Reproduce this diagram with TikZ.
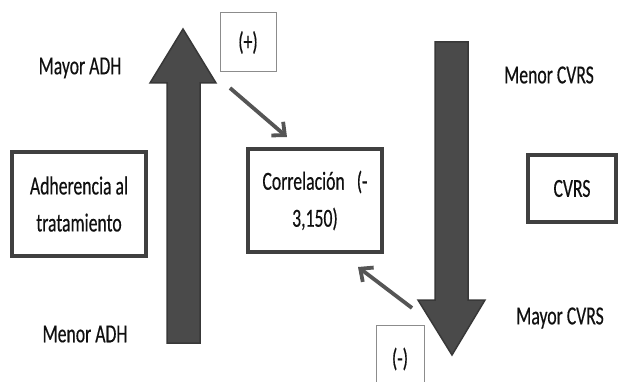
\documentclass[tikz,border=0pt]{standalone}
\usepackage{fontspec}
\setmainfont{Carlito}[FakeStretch=0.68,FakeBold=0.4]
\usetikzlibrary{arrows.meta,shadows}
\definecolor{arrfill}{HTML}{4A4A4A}
\definecolor{arrdraw}{HTML}{383838}
\definecolor{boxdraw}{HTML}{404040}
\definecolor{thinbox}{HTML}{8C8C8C}
\definecolor{linkcol}{HTML}{555555}
\definecolor{txt}{HTML}{101010}
\tikzset{
  x=1pt, y=-1pt,
  bigarrow/.style={fill=arrfill, draw=arrdraw, line width=1.5pt, line join=miter},
  mainbox/.style={draw=boxdraw, line width=3.2pt, fill=white, inner sep=0pt, align=center, text=txt,
    font=\fontsize{26}{37}\selectfont,
    drop shadow={opacity=0.35, shadow xshift=1pt, shadow yshift=-2pt}},
  signbox/.style={draw=thinbox, line width=1pt, fill=white, inner sep=0pt, text=txt,
    font=\fontsize{26}{30}\selectfont},
  lbl/.style={text=txt, font=\fontsize{26}{30}\selectfont, inner sep=0pt},
  link/.style={draw=linkcol, line width=3.8pt, -{Straight Barb[length=10pt,width=18pt,line width=3.8pt]}}
}
\begin{document}
\begin{tikzpicture}
\useasboundingbox (0,0) rectangle (618,382);
\clip (0,0) rectangle (618,382);
% big arrows
\draw[bigarrow] (183,29) -- (216,83) -- (200,83) -- (200,343) -- (167,343) -- (167,83) -- (150,83) -- cycle;
\draw[bigarrow] (435,42) -- (468,42) -- (468,300) -- (485,300) -- (452,355) -- (418,300) -- (435,300) -- cycle;
% boxes
\node[mainbox, minimum width=134pt, minimum height=104pt] (adh) at (79,204) {Adherencia al\\tratamiento};
\node[mainbox, minimum width=134pt, minimum height=103pt] (cor) at (315,200.5) {Correlación\ \ \ (-\\3,150)};
\node[mainbox, minimum width=88pt, minimum height=67pt] (cvrs) at (572,188.5) {CVRS};
\node[signbox, minimum width=56pt, minimum height=59pt] (plus) at (248,42.5) {(+)};
\node[signbox, minimum width=48pt, minimum height=68pt] (minus) at (400,359) {(-)};
% labels
\node[lbl] (mayadh) at (80,68) {Mayor ADH};
\node[lbl] (menadh) at (85,334) {Menor ADH};
\node[lbl] (mencvrs) at (549,75) {Menor CVRS};
\node[lbl] (maycvrs) at (560,318) {Mayor CVRS};
% links
\coordinate (p1) at (230,88);
\coordinate (p2) at (287,137);
\coordinate (m1) at (412,308);
\coordinate (m2) at (358,267);
\draw[link] (p1) -- (p2);
\draw[link] (m1) -- (m2);
\end{tikzpicture}
\end{document}
